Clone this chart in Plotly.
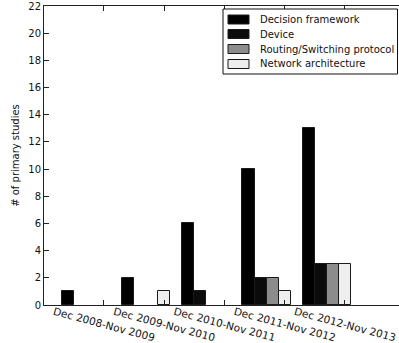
import plotly.graph_objects as go

# Study counts per period and topic
periods = ["Dec 2008-Nov 2009", "Dec 2009-Nov 2010", "Dec 2010-Nov 2011",
           "Dec 2011-Nov 2012", "Dec 2012-Nov 2013"]
decision_framework = [1, 2, 6, 10, 13]
device = [0, 0, 1, 2, 3]
routing_switching = [0, 0, 0, 2, 3]
network_architecture = [0, 1, 0, 1, 3]

series = [
    ("Decision framework", decision_framework, "#000000"),
    ("Device", device, "#0b0b0b"),
    ("Routing/Switching protocol", routing_switching, "#8c8c8c"),
    ("Network architecture", network_architecture, "#eeeeee"),
]

W, H = 399, 343
ML, MR, MT, MB = 44, 0, 6, 38
PW, PH = W - ML - MR, H - MT - MB
BAR_W = 0.2
X_LO = -0.294
X_HI = X_LO + PW / 60.25

fig = go.Figure()
for k, (name, vals, col) in enumerate(series):
    xs = [i + BAR_W * k + BAR_W / 2 for i in range(len(periods))]
    fig.add_trace(go.Bar(
        x=xs, y=vals, width=BAR_W, name=name,
        marker=dict(color=col,
                    line=dict(color="#1a1a1a", width=[1 if v else 0 for v in vals])),
        showlegend=False,
    ))

tick_pos = [i + BAR_W * 3.5 for i in range(len(periods))]

FONT = "DejaVu Sans"
fig.update_layout(
    width=W, height=H,
    margin=dict(l=ML, r=MR, t=MT, b=MB, autoexpand=False),
    paper_bgcolor="white", plot_bgcolor="white",
    barmode="overlay", bargap=0,
    font=dict(family=FONT, size=10, color="#111111"),
    xaxis=dict(
        range=[X_LO, X_HI], tickvals=tick_pos, ticktext=periods,
        tickangle=15, ticks="inside", ticklen=5, tickcolor="#222222",
        showline=True, linecolor="#222222", linewidth=1, mirror="ticks",
        showgrid=False, zeroline=False, tickfont=dict(size=10.5),
        ticklabelshift=-50, ticklabelstandoff=-4, automargin=False,
    ),
    yaxis=dict(
        range=[0, 22], tickvals=list(range(0, 23, 2)),
        ticks="inside", ticklen=5, tickcolor="#222222",
        showline=True, linecolor="#222222", linewidth=1,
        showgrid=False, zeroline=False, automargin=False,
        title=dict(text="# of primary studies", standoff=6, font=dict(size=10)),
    ),
)


def px_x(px):
    return (px - ML) / PW


def px_y(py):
    return (H - MB - py) / PH


# Legend box with wide rectangular handles
shapes = [dict(type="rect", xref="paper", yref="paper",
               x0=px_x(223), x1=px_x(397.5), y0=px_y(74), y1=px_y(9),
               line=dict(color="#111111", width=1), fillcolor="white")]
annotations = []
row_y = [19.5, 34, 49, 64]
for (name, vals, col), cy in zip(series, row_y):
    shapes.append(dict(type="rect", xref="paper", yref="paper",
                       x0=px_x(228), x1=px_x(249), y0=px_y(cy + 4.5), y1=px_y(cy - 4.5),
                       line=dict(color="#1a1a1a", width=1), fillcolor=col))
    annotations.append(dict(xref="paper", yref="paper", x=px_x(258), y=px_y(cy),
                            xanchor="left", yanchor="middle", text=name, showarrow=False,
                            font=dict(size=10, color="#111111")))
fig.update_layout(shapes=shapes, annotations=annotations)

fig.write_html("out.html")
